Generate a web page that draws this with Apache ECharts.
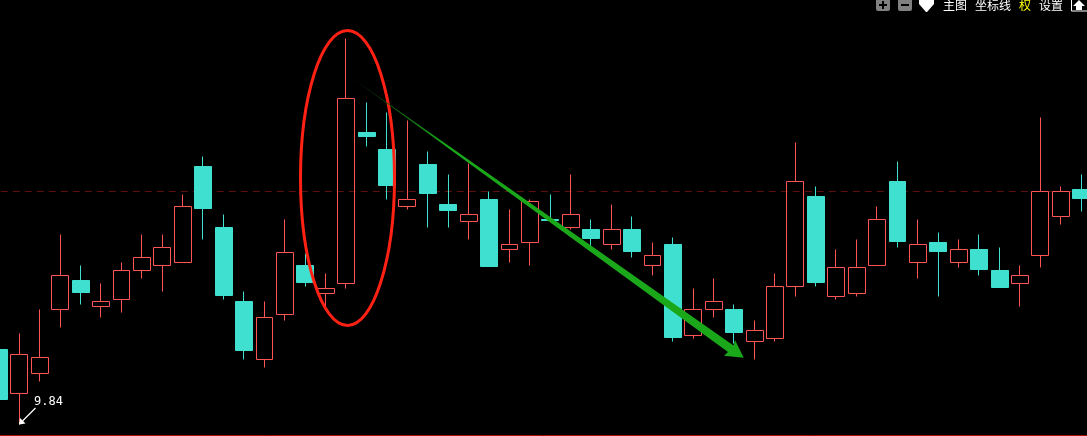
<!DOCTYPE html>
<html><head><meta charset="utf-8">
<style>html,body{margin:0;padding:0;background:#000;overflow:hidden}#c{width:1087px;height:436px}</style>
<script src="https://cdn.jsdelivr.net/npm/echarts@6/dist/echarts.min.js"></script>
</head><body><div id="c"></div>
<script>
const openV =[10.59,10.15,10.35,10.99,11.28,11.02,11.09,11.38,11.43,11.46,12.42,11.81,11.07,10.49,10.94,11.43,11.15,11.25,12.76,12.59,12.02,12.44,12.04,11.87,12.09,11.59,11.66,11.89,11.81,11.79,11.64,11.79,11.43,11.64,10.73,10.99,10.99,10.67,10.70,11.22,12.12,11.12,11.15,11.43,12.27,11.46,11.66,11.46,11.59,11.38,11.25,11.53,11.92,12.19];
const closeV=[10.09,10.54,10.51,11.33,11.16,11.07,11.38,11.51,11.61,12.02,12.00,11.13,10.58,10.91,11.56,11.26,11.20,13.10,12.72,12.23,12.09,12.15,11.98,11.94,11.42,11.64,12.07,11.88,11.94,11.70,11.79,11.57,11.53,10.71,10.99,11.07,10.76,10.78,11.22,12.27,11.26,11.41,11.41,11.89,11.67,11.64,11.57,11.59,11.39,11.21,11.33,12.17,12.17,12.10];
const lowV  =[10.09,9.84,10.27,10.81,11.04,10.91,10.96,11.30,11.17,11.46,11.69,11.09,10.49,10.41,10.88,11.22,11.01,11.20,12.62,12.09,11.99,11.81,11.81,11.69,11.42,11.46,11.43,11.88,11.79,11.61,11.59,11.51,11.33,10.67,10.70,10.91,10.65,10.49,10.67,11.12,11.22,11.09,11.12,11.43,11.61,11.30,11.12,11.41,11.33,11.21,11.02,11.41,11.84,11.97];
const highV =[10.59,10.75,10.99,11.74,11.43,11.25,11.46,11.74,11.74,12.14,12.52,11.94,11.17,11.07,11.89,11.55,11.35,13.70,13.06,12.96,12.88,12.57,12.34,12.45,12.17,11.99,12.09,12.14,12.34,11.89,12.04,11.92,11.66,11.71,11.20,11.30,11.04,10.88,11.35,12.66,12.22,11.59,11.69,12.02,12.47,11.89,11.76,11.69,11.74,11.61,11.43,12.91,12.22,12.34];
const categories=openV.map((_,i)=>String(i+1));
const refPrice=12.17;
const toolbarLabels=['主图','坐标线','权','设置'];
const lowLabel='9.84';

const chart=echarts.init(document.getElementById('c'),null,{renderer:'canvas'});
const UP='#ff5555',DOWN='#40e0d0';
function sq(x,sign){
  const kids=[{type:'rect',shape:{x:x,y:-4,width:14,height:15,r:2},style:{fill:'#808080'}},
    {type:'rect',shape:{x:x+3,y:4,width:8,height:2},style:{fill:'#000'}}];
  if(sign)kids.push({type:'rect',shape:{x:x+6,y:1,width:2,height:8},style:{fill:'#000'}});
  return kids;
}
const txt=(x,t,c)=>({type:'text',z:20,x:x,y:-1,style:{text:t,fill:c||'#fff',font:'12px "Noto Sans CJK SC"',textVerticalAlign:'top'}});
chart.setOption({
  animation:false,backgroundColor:'#000',
  grid:{left:-11.2,top:0,width:1102.7,height:435,containLabel:false,outerBoundsMode:'none'},
  xAxis:{type:'category',data:categories,boundaryGap:true,
    axisLine:{show:true,onZero:false,lineStyle:{color:'#a81010',width:1}},axisTick:{show:false},axisLabel:{show:false},splitLine:{show:false}},
  yAxis:{type:'value',min:9.735,max:14.085,scale:true,show:false,splitLine:{show:false}},
  series:[
    {type:'line',data:[],z:1,silent:true,markLine:{z:1,silent:true,symbol:'none',animation:false,label:{show:false},
      lineStyle:{color:'#5c1010',type:[7,5],width:1},data:[{yAxis:refPrice}]}},
    {type:'candlestick',z:2,barWidth:17.4,silent:true,
     data:openV.map((o,i)=>[o,closeV[i],lowV[i],highV[i]]),
     itemStyle:{color:'rgba(0,0,0,0)',color0:DOWN,borderColor:UP,borderColor0:DOWN,borderWidth:1}}
  ],
  graphic:[
    {type:'ellipse',z:10,shape:{cx:347.5,cy:178,rx:47,ry:147.5},style:{fill:null,stroke:'#ff2214',lineWidth:3}},
    {type:'polygon',z:11,shape:{points:[[352,78],[733.5,345.5],[735,340],[743.7,357.7],[724,355.7],[728,352]]},
      style:{fill:new echarts.graphic.LinearGradient(0,0,0.25,0.25,[{offset:0,color:'#062006'},{offset:1,color:'#1aa81a'}])}},
    {type:'text',z:12,x:34,y:396,style:{text:lowLabel,fill:'#fff',font:'12px "DejaVu Sans Mono"',textVerticalAlign:'top'}},
    {type:'polyline',z:12,shape:{points:[[35.5,408],[19.5,424]]},style:{stroke:'#fff',lineWidth:1.3,fill:null}},
    {type:'polygon',z:12,shape:{points:[[19,424.5],[20,418],[25.5,423.5]]},style:{fill:'#fff'}},
    ...sq(876,true).map(o=>({...o,z:20})),
    ...sq(898,false).map(o=>({...o,z:20})),
    {type:'polygon',z:20,shape:{points:[[919,0],[934,0],[934,4],[927,12],[926,12],[919,4]]},style:{fill:'#fff'}},
    txt(943,toolbarLabels[0]),txt(975,toolbarLabels[1]),txt(1019,toolbarLabels[2],'#ffff00'),txt(1039,toolbarLabels[3]),
    {type:'rect',z:20,shape:{x:1071.5,y:-2,width:20,height:13},style:{fill:'#000',stroke:'#fff',lineWidth:1}},
    {type:'polygon',z:21,shape:{points:[[1079,0],[1085,6],[1082,6],[1082,10],[1076,10],[1076,6],[1073,6]]},style:{fill:'#fff'}}
  ]
});
</script></body></html>
